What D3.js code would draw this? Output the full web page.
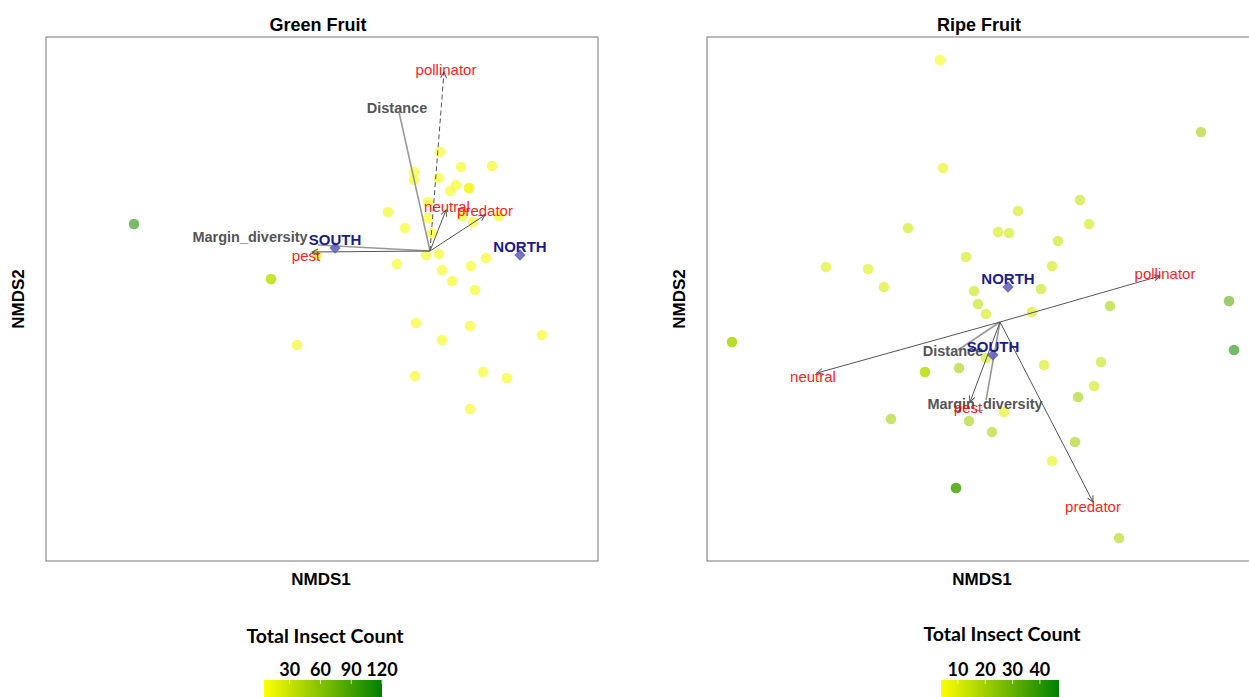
<!DOCTYPE html>
<html>
<head>
<meta charset="utf-8">
<script src="https://cdn.jsdelivr.net/npm/d3@7"></script>
<style>
  body { margin: 0; background: #fff; }
  svg { display: block; }
</style>
</head>
<body>
<div id="chart"></div>
<script>
// Green fruit site scores (NMDS1, NMDS2) and total insect count
const greenX = [-1.48, -0.795, -0.795, -0.665, 0.05, 0.155, 0.31, -0.08, -0.08, 0.045, 0.13, 0.10, 0.195, 0.195, -0.01, -0.21, -0.01, 0.16, 0.215, 0.345, -0.125, 0.01, -0.02, 0.045, -0.165, 0.06, 0.205, 0.28, 0.11, 0.225, -0.565, -0.07, 0.20, 0.06, 0.56, -0.075, 0.265, 0.385, 0.20];
const greenY = [0.135, -0.14, -0.14, -0.47, 0.495, 0.42, 0.425, 0.395, 0.355, 0.365, 0.33, 0.30, 0.315, 0.315, 0.245, 0.195, 0.165, 0.175, 0.145, 0.175, 0.115, 0.09, -0.02, -0.015, -0.065, -0.095, -0.075, -0.035, -0.15, -0.195, -0.02, -0.36, -0.375, -0.445, -0.42, -0.625, -0.605, -0.635, -0.79];
const greenCount = [110, 35, 35, 12, 10, 10, 12, 10, 10, 10, 10, 10, 12, 12, 10, 12, 10, 10, 10, 12, 10, 10, 10, 10, 10, 10, 10, 10, 10, 10, 10, 10, 10, 10, 10, 10, 10, 10, 10];

// Ripe fruit site scores and total insect count
const ripeX = [-0.30, -0.285, 1.005, -0.46, 0.09, 0.40, -0.01, 0.045, 0.445, 0.29, -0.17, 0.26, -0.13, 0.205, -0.11, 0.55, -0.07, 0.16, -0.87, -0.66, -0.58, -1.34, -1.34, -0.375, -0.375, -0.205, -0.07, 0.22, 0.505, 0.47, 0.39, 0.02, -0.545, -0.155, -0.04, 0.375, 0.26, -0.22, -0.22, 0.595, 1.145, 1.17];
const ripeY = [1.31, 0.77, 0.95, 0.47, 0.555, 0.61, 0.45, 0.445, 0.49, 0.405, 0.325, 0.28, 0.155, 0.165, 0.09, 0.08, 0.04, 0.05, 0.275, 0.265, 0.175, -0.10, -0.10, -0.25, -0.25, -0.23, -0.18, -0.215, -0.20, -0.32, -0.375, -0.45, -0.485, -0.495, -0.55, -0.60, -0.695, -0.83, -0.83, -1.08, 0.105, -0.14];
const ripeCount = [6, 8, 20, 12, 12, 14, 12, 12, 12, 13, 12, 12, 13, 14, 15, 19, 12, 12, 10, 10, 11, 18, 18, 16, 16, 20, 12, 11, 14, 12, 20, 9, 20, 20, 18, 20, 8, 36, 36, 18, 33, 44];

// Fitted vectors: tip and label position (NMDS units)
const vecNames = ['Distance', 'pollinator', 'Margin_diversity', 'pest', 'neutral', 'predator'];
const vecKind = ['env', 'group', 'env', 'group', 'group', 'group'];
const greenVecX = [-0.155, 0.07, -0.56, -0.59, 0.08, 0.275];
const greenVecY = [0.695, 0.895, 0.03, -0.005, 0.205, 0.18];
const greenLabX = [-0.165, 0.08, -0.90, -0.62, 0.085, 0.275];
const greenLabY = [0.715, 0.905, 0.07, -0.025, 0.22, 0.20];
const ripeVecX = [-0.21, 0.80, -0.07, -0.15, -0.915, 0.465];
const ripeVecY = [-0.14, 0.23, -0.39, -0.40, -0.255, -0.90];
const ripeLabX = [-0.235, 0.825, -0.075, -0.16, -0.935, 0.465];
const ripeLabY = [-0.145, 0.24, -0.41, -0.43, -0.275, -0.925];

// Region centroids
const regions = ['SOUTH', 'NORTH'];
const greenCenX = [-0.475, 0.45];
const greenCenY = [0.015, -0.02];
const ripeCenX = [-0.035, 0.04];
const ripeCenY = [-0.165, 0.175];

// Colour bar ticks
const greenTicks = [30, 60, 90, 120];
const ripeTicks = [10, 20, 30, 40];

const width = 1249, height = 697;
const font = 'Liberation Sans, Arial, sans-serif';
const svg = d3.select('#chart').append('svg')
  .attr('width', width).attr('height', height);

svg.append('defs').append('marker')
  .attr('id', 'head')
  .attr('viewBox', '-7 -4 8 8')
  .attr('refX', 0).attr('refY', 0)
  .attr('markerWidth', 8).attr('markerHeight', 8)
  .attr('markerUnits', 'userSpaceOnUse')
  .attr('orient', 'auto')
  .append('path')
  .attr('d', 'M-6,-3L0,0L-6,3')
  .attr('fill', 'none').attr('stroke', '#555').attr('stroke-width', 1);

function panel(o) {
  const x = d3.scaleLinear().domain(o.xDomain).range([o.left, o.left + 552]);
  const y = d3.scaleLinear().domain(o.yDomain).range([561, 37]);
  const color = d3.scaleLinear().domain(o.countDomain).range(['#ffff00', '#008000']).clamp(true);
  const g = svg.append('g');

  g.append('text').attr('x', o.left + 272).attr('y', 31)
    .attr('text-anchor', 'middle').attr('font-family', font)
    .attr('font-weight', 'bold').attr('font-size', 18).text(o.title);

  g.append('rect').attr('x', o.left).attr('y', 37).attr('width', 552).attr('height', 524)
    .attr('fill', 'none').attr('stroke', '#777').attr('stroke-width', 1);

  g.append('text').attr('x', o.left + 275).attr('y', 585)
    .attr('text-anchor', 'middle').attr('font-family', font)
    .attr('font-weight', 'bold').attr('font-size', 17).text('NMDS1');
  g.append('text')
    .attr('transform', `translate(${o.left - 22},299) rotate(-90)`)
    .attr('text-anchor', 'middle').attr('font-family', font)
    .attr('font-weight', 'bold').attr('font-size', 17).text('NMDS2');

  // sites
  g.selectAll('circle.site').data(d3.range(o.px.length)).enter()
    .append('circle').attr('class', 'site')
    .attr('cx', (i) => x(o.px[i])).attr('cy', (i) => y(o.py[i]))
    .attr('r', 5.3)
    .attr('fill', (i) => color(o.count[i]))
    .attr('fill-opacity', 0.58);

  // vectors
  const origin = [x(0), y(0)];
  vecNames.forEach((name, i) => {
    const env = vecKind[i] === 'env';
    g.append('line')
      .attr('x1', origin[0]).attr('y1', origin[1])
      .attr('x2', x(o.vx[i])).attr('y2', y(o.vy[i]))
      .attr('stroke', env ? '#999' : '#555')
      .attr('stroke-width', env ? 1.6 : 1)
      .attr('stroke-dasharray', o.dashed.includes(name) ? '5,3' : null)
      .attr('marker-end', env ? null : 'url(#head)');
  });

  // centroids
  g.selectAll('path.cen').data(regions).enter()
    .append('path').attr('class', 'cen')
    .attr('d', d3.symbol(d3.symbolSquare, 64))
    .attr('transform', (d, i) => `translate(${x(o.cx[i])},${y(o.cy[i])}) rotate(45)`)
    .attr('fill', '#5a5ab8').attr('fill-opacity', 0.85);

  vecNames.forEach((name, i) => {
    const env = vecKind[i] === 'env';
    g.append('text')
      .attr('x', x(o.lx[i])).attr('y', y(o.ly[i]))
      .attr('text-anchor', 'middle').attr('dy', '0.35em')
      .attr('font-family', font)
      .attr('font-size', env ? 14.5 : 15)
      .attr('font-weight', env ? 'bold' : 'normal')
      .attr('fill', env ? '#555' : '#ff0000')
      .attr('fill-opacity', env ? 1 : 0.9)
      .text(name);
  });

  g.selectAll('text.cen').data(regions).enter()
    .append('text').attr('class', 'cen')
    .attr('x', (d, i) => x(o.cx[i])).attr('y', (d, i) => y(o.cy[i]) - 3)
    .attr('text-anchor', 'middle')
    .attr('font-family', font)
    .attr('font-weight', 'bold').attr('font-size', 15)
    .attr('fill', '#1c1c8c').text((d) => d);

  // colour legend
  const lg = svg.append('g');
  const lx = d3.scaleLinear().domain(o.countDomain).range([o.barLeft, o.barLeft + 118]);
  const gid = 'grad' + o.left;
  const grad = svg.select('defs').append('linearGradient').attr('id', gid);
  grad.append('stop').attr('offset', '0%').attr('stop-color', '#ffff00');
  grad.append('stop').attr('offset', '100%').attr('stop-color', '#008000');
  lg.append('text').attr('x', o.barLeft + 61).attr('y', o.legTitleY)
    .attr('text-anchor', 'middle').attr('font-family', 'Lato, sans-serif')
    .attr('font-weight', 'bold').attr('font-size', 19.5).text('Total Insect Count');
  lg.append('rect').attr('x', o.barLeft).attr('y', 680).attr('width', 118).attr('height', 20)
    .attr('fill', `url(#${gid})`);
  lg.selectAll('line.tk').data(o.ticks).enter().append('line').attr('class', 'tk')
    .attr('x1', (d) => lx(d)).attr('x2', (d) => lx(d))
    .attr('y1', 680).attr('y2', 684)
    .attr('stroke', '#fff').attr('stroke-opacity', 0.7);
  lg.selectAll('text.tk').data(o.ticks).enter().append('text').attr('class', 'tk')
    .attr('x', (d) => lx(d)).attr('y', 676)
    .attr('text-anchor', 'middle').attr('font-family', 'Lato, sans-serif')
    .attr('font-weight', 'bold').attr('font-size', 18).text((d) => d);
}

panel({
  title: 'Green Fruit', left: 46,
  xDomain: [-1.92, 0.84], yDomain: [-1.55, 1.07],
  px: greenX, py: greenY, count: greenCount, countDomain: [5, 120],
  vx: greenVecX, vy: greenVecY, lx: greenLabX, ly: greenLabY,
  cx: greenCenX, cy: greenCenY, dashed: ['pollinator'],
  barLeft: 264, legTitleY: 643, ticks: greenTicks
});

panel({
  title: 'Ripe Fruit', left: 707,
  xDomain: [-1.465, 1.295], yDomain: [-1.195, 1.425],
  px: ripeX, py: ripeY, count: ripeCount, countDomain: [3.8, 47],
  vx: ripeVecX, vy: ripeVecY, lx: ripeLabX, ly: ripeLabY,
  cx: ripeCenX, cy: ripeCenY, dashed: [],
  barLeft: 941, legTitleY: 641, ticks: ripeTicks
});
</script>
</body>
</html>
